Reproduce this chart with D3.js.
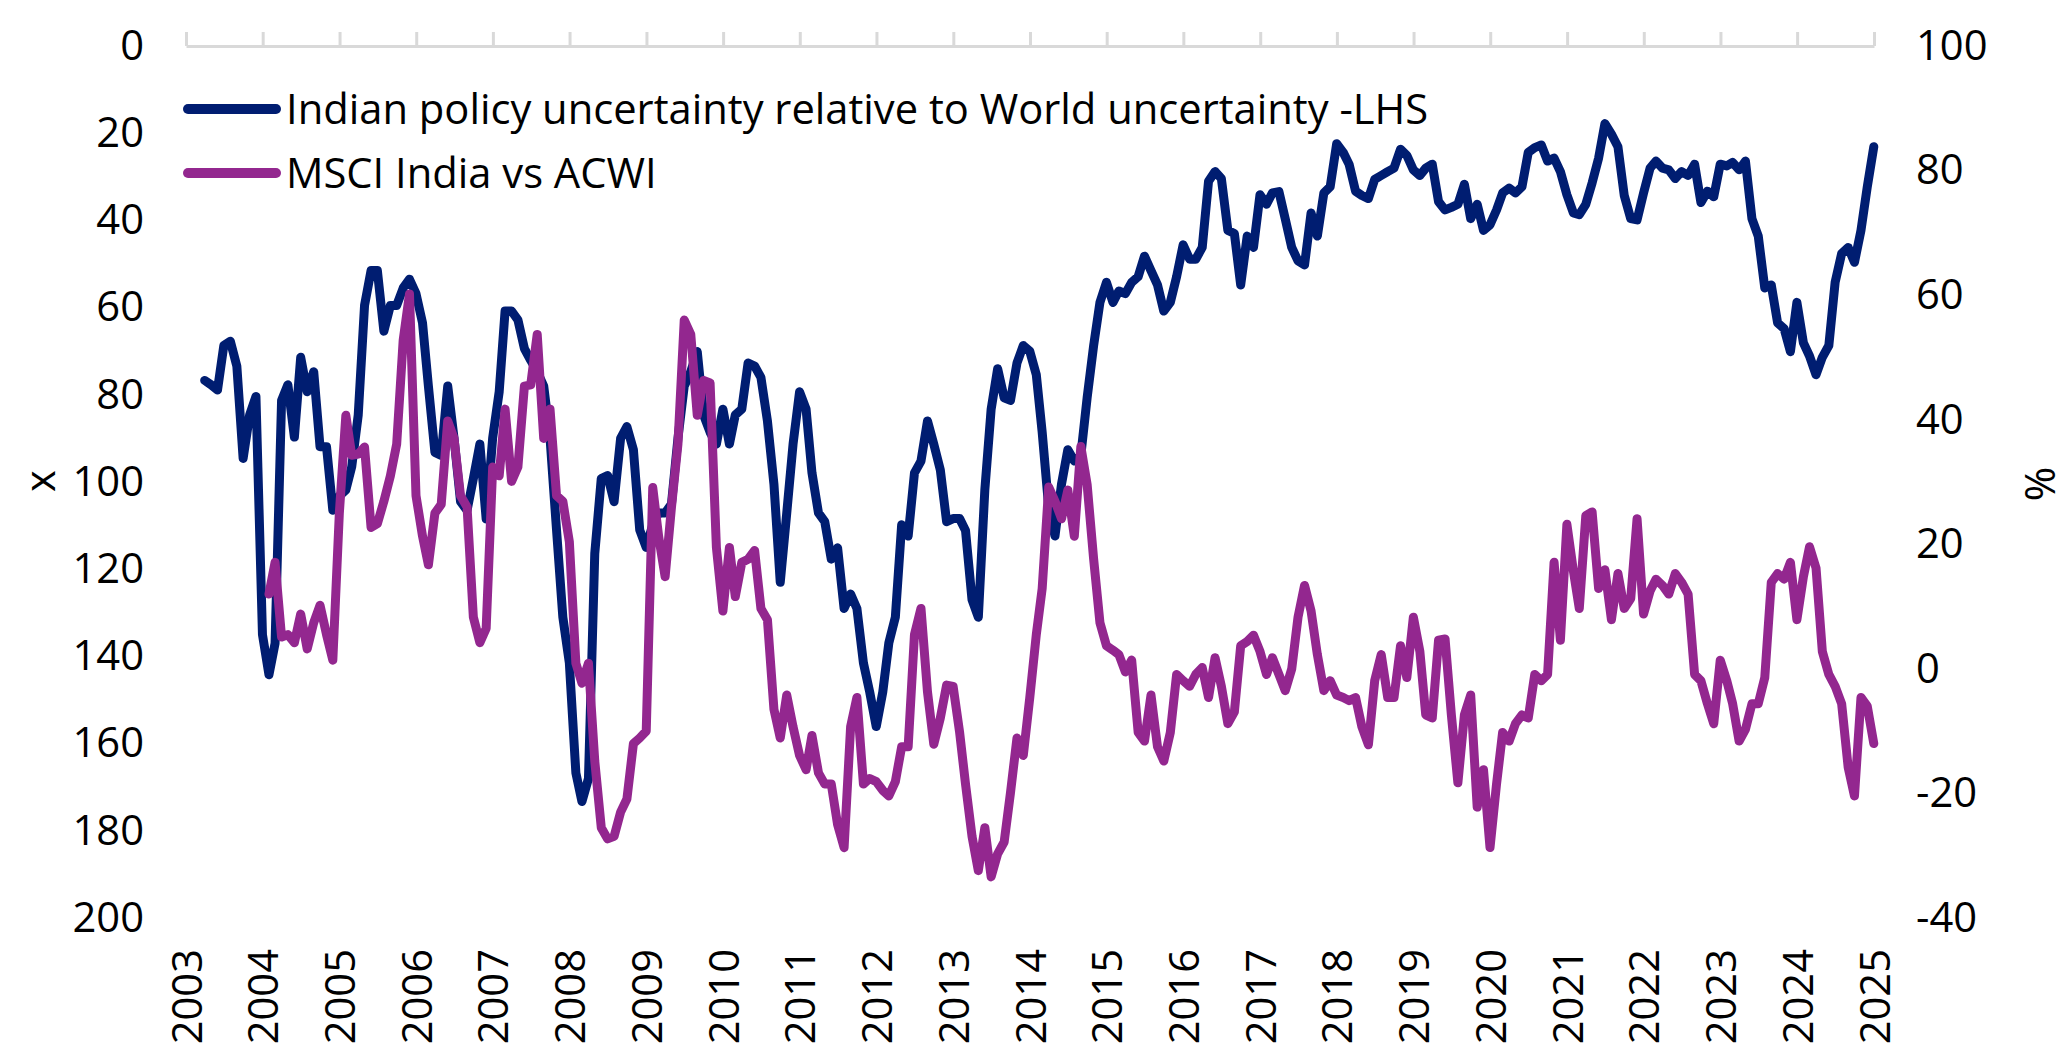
<!DOCTYPE html>
<html>
<head>
    <meta charset="utf-8" />
    <title>Indian policy uncertainty vs MSCI India</title>
    <script type="text/javascript" src="https://cdn.jsdelivr.net/npm/d3@7/dist/d3.min.js"></script>
    <style>
        body { margin: 0; background: #ffffff; }
        text { font-family: "Open Sans", "Noto Sans", sans-serif; fill: #000000; }
    </style>
</head>
<body>
    <script type="text/javascript">

        // Width and height of the page
        var w = 2069;
        var h = 1048;

        // Series start (month-end values)
        var uncertaintyStart = new Date(2003, 2, 1);
        var msciStart = new Date(2004, 0, 1);

        // Indian policy uncertainty relative to World uncertainty (LHS, inverted)
        var uncertainty = [
            76.7, 77.7, 78.9, 68.7, 67.7, 73.4, 94.6, 84.6, 80.4, 135,
            144.2, 137, 81.3, 77.7, 89.7, 71.4, 79.3, 74.7, 91.9, 91.9,
            106.5, 103.2, 101.8, 96.5, 84.6, 59.5, 51.5, 51.5, 65.4, 59.5,
            59.5, 55.5, 53.5, 56.8, 63.5, 78, 93.2, 93.9, 78, 89.9,
            104.5, 106.5, 99.2, 91.3, 108.5, 89.9, 79.3, 60.8, 60.8, 62.8,
            69.4, 72.1, 74.7, 78, 89.9, 111, 131, 141.5, 166.7, 173.3,
            168, 116.4, 99.2, 98.5, 104.5, 90, 87.3, 92.6, 111, 115,
            109.8, 107.1, 107.1, 105.1, 90, 78, 74.7, 70.1, 84.6, 88.6,
            91.3, 83.3, 91.3, 84.6, 83.3, 72.7, 73.4, 76, 86, 100.5,
            123, 107.1, 91.3, 79.3, 83.3, 97.9, 107.1, 109.1, 117.7, 115.1,
            129, 125.7, 129, 141.5, 148.2, 156.1, 148.2, 136.9, 131, 109.8,
            112.4, 97.9, 95.2, 86, 91.3, 97.2, 109.1, 108.4, 108.4, 111.1,
            127, 131, 101.8, 83.3, 74, 80.7, 81.3, 72.7, 68.7, 70,
            75.4, 88.6, 105.8, 112.4, 100.5, 92.6, 95.2, 93.9, 80.7, 68.7,
            58.8, 54.2, 58.8, 56.2, 56.8, 54.2, 52.9, 48.2, 51.5, 54.8,
            60.8, 58.8, 52.9, 45.6, 48.9, 48.9, 46.2, 31, 28.8, 30.4,
            42.3, 43, 54.8, 43.6, 46.2, 34.1, 36.3, 33.7, 33.4, 39.6,
            46.2, 49.3, 50.2, 38.3, 43.6, 33.7, 32.3, 22.4, 24.4, 27.1,
            33.3, 34.3, 35, 30.6, 29.7, 28.8, 28, 23.7, 25.1, 28.4,
            29.7, 28, 27.1, 35.7, 37.6, 37, 36.3, 31.7, 39.6, 36.3,
            42.3, 41, 37.6, 33.7, 32.6, 33.7, 32.3, 24.4, 23.3, 22.7,
            26.4, 25.7, 28.8, 34.1, 38.3, 38.7, 36.3, 31.4, 25.7, 17.8,
            20.2, 23.1, 34.3, 39.6, 39.9, 33.7, 28, 26.4, 28, 28.4,
            30.4, 28.8, 29.7, 27.1, 35.9, 33.3, 34.6, 27.1, 27.5, 26.7,
            28.4, 26.4, 39.6, 43.6, 55.5, 54.8, 63.5, 64.8, 70.1, 58.8,
            68.1, 71.1, 75.4, 71.4, 68.7, 54.2, 47.6, 46.2, 49.6, 42.3,
            32.3, 23.1
        ];

        // MSCI India vs ACWI, % (RHS)
        var msci = [
            12, 17.1, 5.1, 5.5, 4.2, 8.8, 3.2, 7.4, 10.2, 5.5,
            1.4, 25, 40.7, 34.3, 34.5, 35.6, 22.7, 23.3, 26.9, 31,
            36.1, 52.8, 60.2, 27.8, 21.3, 16.7, 25, 26.4, 39.8, 37,
            27.8, 26, 8.3, 4.2, 6.5, 32.4, 31, 41.7, 30.1, 32.4,
            45.4, 45.6, 53.7, 37, 41.7, 27.8, 26.9, 20.4, 0.9, -2.3,
            0.9, -14.8, -25.5, -27.3, -26.9, -23, -20.9, -12, -11.1, -10,
            29.1, 21.3, 14.8, 25.9, 36.1, 56, 53.7, 40.7, 46.3, 45.9,
            19.5, 9.3, 19.5, 11.6, 17.1, 17.6, 19, 9.7, 7.9, -6.5,
            -11.1, -4.2, -9.3, -13.9, -16.2, -10.7, -16.7, -18.5, -18.5, -25,
            -28.7, -9.3, -4.6, -18.5, -17.6, -18.1, -19.5, -20.4, -18.1, -12.5,
            -12.5, 5.5, 9.7, -3.7, -12.1, -7.9, -2.6, -2.8, -10.2, -18.5,
            -26.9, -32.4, -25.5, -33.4, -29.7, -27.8, -19.9, -11.1, -13.9, -4.6,
            5.5, 12.9, 29.2, 26.9, 24.1, 28.7, 21.3, 35.7, 29.6, 17.6,
            7.4, 3.7, 3, 2.3, -0.5, 1.4, -10.2, -11.6, -4.2, -12.5,
            -14.8, -10.2, -0.9, -1.9, -2.8, -0.9, 0.2, -4.6, 1.8, -2.8,
            -8.8, -6.9, 3.7, 4.4, 5.4, 2.8, -0.9, 1.8, -0.9, -3.5,
            0, 8.3, 13.4, 9.3, 2.3, -3.5, -1.9, -4.2, -4.6, -5.1,
            -4.6, -9.3, -12.2, -1.9, 2.3, -4.6, -4.6, 3.7, -1.4, 8.3,
            2.8, -7.4, -7.9, 4.6, 4.8, -7.4, -18.3, -7.4, -4.2, -22.2,
            -16.2, -28.7, -18.5, -10.2, -11.6, -8.8, -7.4, -7.9, -0.9, -1.9,
            -0.9, 17.1, 4.6, 23.2, 15.7, 9.7, 24.6, 25.2, 12.9, 15.9,
            7.9, 15.3, 9.7, 11.3, 24.1, 8.8, 12.5, 14.4, 13.4, 12,
            15.3, 13.9, 12, -0.9, -1.9, -5.6, -8.8, 1.4, -1.9, -5.6,
            -11.6, -9.7, -5.6, -5.6, -1.4, 13.9, 15.3, 14.4, 17.1, 7.9,
            14.8, 19.6, 16.2, 2.8, -0.9, -2.8, -5.6, -15.8, -20.4, -4.6,
            -6, -12
        ];

        // Axis ticks
        var leftTicks = [0, 20, 40, 60, 80, 100, 120, 140, 160, 180, 200];
        var rightTicks = [-40, -20, 0, 20, 40, 60, 80, 100];
        var yearTicks = d3.range(2003, 2026).map(function (y) { return new Date(y, 0, 1); });

        var seriesNames = ["Indian policy uncertainty relative to World uncertainty -LHS", "MSCI India vs ACWI"];
        var colours = ["#001d71", "#93278f"];

        // month-end date for the i-th value of a series
        var monthEnd = function (start, i) {
            return new Date(start.getFullYear(), start.getMonth() + i + 1, 0);
        };

        // plain hyphen minus like the original labels
        var plain = function (d) { return String(d); };

        // plot box (window.top is reserved, so prefixed names)
        var plotLeft = 186, plotRight = 1874, plotTop = 46, plotBottom = 918;
        var fontSize = "41.7px";

        var xScale = d3.scaleTime()
            .domain([new Date(2003, 0, 1), new Date(2025, 0, 1)])
            .range([plotLeft, plotRight]);

        // LHS is inverted: 0 at the top
        var yLeft = d3.scaleLinear().domain([0, 200]).range([plotTop, plotBottom]);
        var yRight = d3.scaleLinear().domain([-40, 100]).range([plotBottom, plotTop]);

        var svg = d3.select("body")
            .append("svg")
            .attr("width", w)
            .attr("height", h);

        // Top date axis line with ticks pointing up
        var topAxis = svg.append("g")
            .attr("transform", "translate(0," + plotTop + ")")
            .call(d3.axisTop(xScale).tickValues(yearTicks).tickSize(14).tickSizeOuter(0).tickFormat(""));
        topAxis.select(".domain").attr("stroke", "#d9d9d9").attr("stroke-width", 3);
        topAxis.selectAll(".tick line").attr("stroke", "#d9d9d9").attr("stroke-width", 3);

        // Year labels at the bottom, rotated
        var yearAxis = svg.append("g")
            .attr("transform", "translate(0," + plotBottom + ")")
            .call(d3.axisBottom(xScale).tickValues(yearTicks).tickSize(0).tickFormat(d3.timeFormat("%Y")));
        yearAxis.select(".domain").remove();
        yearAxis.selectAll("text")
            .attr("y", 0)
            .attr("x", -31)
            .attr("dy", "0.36em")
            .attr("transform", "rotate(-90)")
            .style("text-anchor", "end")
            .style("font-size", fontSize);

        // Left axis
        var leftAxis = svg.append("g")
            .attr("transform", "translate(" + plotLeft + ",0)")
            .call(d3.axisLeft(yLeft).tickValues(leftTicks).tickSize(0).tickPadding(42).tickFormat(plain));
        leftAxis.select(".domain").remove();
        leftAxis.selectAll("text").style("font-size", fontSize);

        // Right axis
        var rightAxis = svg.append("g")
            .attr("transform", "translate(" + plotRight + ",0)")
            .call(d3.axisRight(yRight).tickValues(rightTicks).tickSize(0).tickPadding(42).tickFormat(plain));
        rightAxis.select(".domain").remove();
        rightAxis.selectAll("text").style("font-size", fontSize);

        // Axis titles
        svg.append("text")
            .attr("transform", "translate(40,481) rotate(-90)")
            .attr("text-anchor", "middle")
            .attr("dy", "0.35em")
            .style("font-size", fontSize)
            .text("x");

        svg.append("text")
            .attr("transform", "translate(2040,484) rotate(-90)")
            .attr("text-anchor", "middle")
            .attr("dy", "0.35em")
            .style("font-size", fontSize)
            .text("%");

        // Lines
        var lineLeft = d3.line()
            .x(function (d, i) { return xScale(monthEnd(uncertaintyStart, i)); })
            .y(function (d) { return yLeft(d); });

        var lineRight = d3.line()
            .x(function (d, i) { return xScale(monthEnd(msciStart, i)); })
            .y(function (d) { return yRight(d); });

        svg.append("path")
            .datum(uncertainty)
            .attr("d", lineLeft)
            .attr("fill", "none")
            .attr("stroke", colours[0])
            .attr("stroke-width", 9)
            .attr("stroke-linejoin", "round")
            .attr("stroke-linecap", "round");

        svg.append("path")
            .datum(msci)
            .attr("d", lineRight)
            .attr("fill", "none")
            .attr("stroke", colours[1])
            .attr("stroke-width", 9)
            .attr("stroke-linejoin", "round")
            .attr("stroke-linecap", "round");

        // Legend
        var legend = svg.selectAll(".legend")
            .data(seriesNames)
            .enter()
            .append("g")
            .attr("class", "legend")
            .attr("transform", function (d, i) { return "translate(0," + (109 + i * 64) + ")"; });

        legend.append("line")
            .attr("x1", 188).attr("x2", 276)
            .attr("y1", 0).attr("y2", 0)
            .attr("stroke", function (d, i) { return colours[i]; })
            .attr("stroke-width", 10)
            .attr("stroke-linecap", "round");

        legend.append("text")
            .attr("x", 286)
            .attr("y", 0)
            .attr("dy", "0.35em")
            .style("font-size", fontSize)
            .text(function (d) { return d; });

    </script>
</body>
</html>
